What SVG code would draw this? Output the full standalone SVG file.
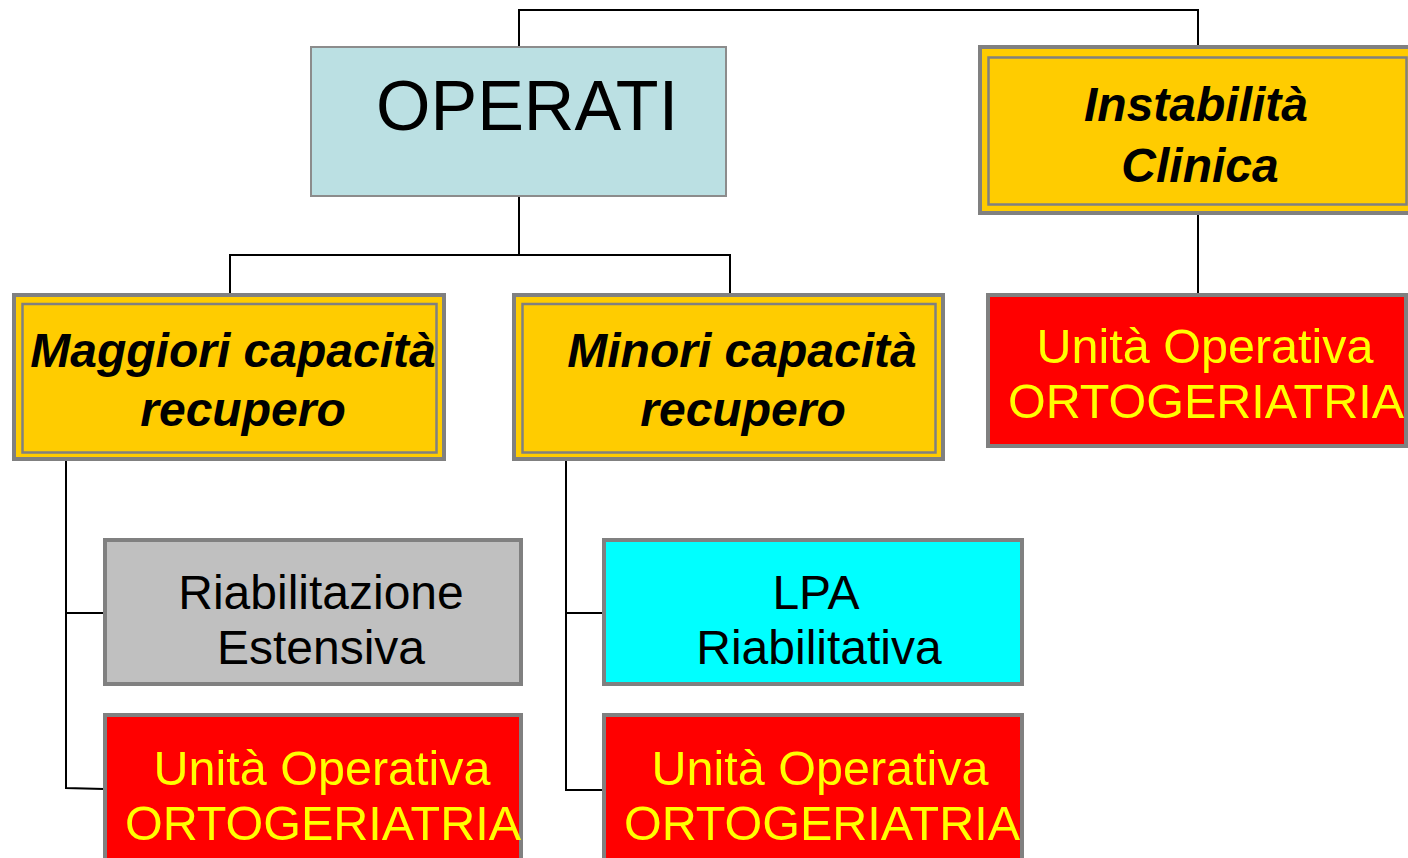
<svg xmlns="http://www.w3.org/2000/svg" width="1408" height="858" viewBox="0 0 1408 858">
<style>
.bg{fill:#ffffff}
.conn{fill:none;stroke:#000000;stroke-width:2}
.op{fill:#BBE0E3;stroke:#8C8C8C;stroke-width:2}
.yel{fill:#FFCC00;stroke:#808080;stroke-width:4}
.yin{fill:none;stroke:#808080;stroke-width:2.5}
.gray{fill:#C0C0C0;stroke:#808080;stroke-width:4}
.cyan{fill:#00FFFF;stroke:#808080;stroke-width:4}
.red{fill:#FF0000;stroke:#808080;stroke-width:4}
text{font-family:"Liberation Sans",Arial,sans-serif;font-size:48px;text-anchor:middle}
.bi{font-weight:bold;font-style:italic;fill:#000000}
.blk{fill:#000000}
.yt{fill:#FFFF00;font-size:48.5px}
</style>
<rect class="bg" x="0" y="0" width="1408" height="858"/>
<g id="connectors">
<polyline class="conn" points="519,47 519,10 1198,10 1198,46"/>
<polyline class="conn" points="519,197 519,255"/>
<polyline class="conn" points="230,293 230,255 730,255 730,293"/>
<polyline class="conn" points="1198,215 1198,293"/>
<polyline class="conn" points="66,461 66,788 104,789"/>
<polyline class="conn" points="66,613 104,613"/>
<polyline class="conn" points="566,461 566,790 603,790"/>
<polyline class="conn" points="566,613 603,613"/>
</g>
<g id="operati">
<rect class="op" x="311" y="47" width="415" height="149"/>
<text class="blk" x="376" y="130" style="font-size:70px;text-anchor:start">OPERATI</text>
</g>
<g id="instabilita">
<rect class="yel" x="980" y="47" width="436" height="166"/>
<rect class="yin" x="988.5" y="57.5" width="418" height="147"/>
<text class="bi" x="1196" y="121">Instabilità</text>
<text class="bi" x="1200" y="182">Clinica</text>
</g>
<g id="maggiori">
<rect class="yel" x="14" y="295" width="430" height="164"/>
<rect class="yin" x="22.5" y="304" width="414" height="148.5"/>
<text class="bi" x="233" y="367">Maggiori capacità</text>
<text class="bi" x="243" y="426">recupero</text>
</g>
<g id="minori">
<rect class="yel" x="514" y="295" width="429" height="164"/>
<rect class="yin" x="522.5" y="304" width="413" height="148.5"/>
<text class="bi" x="742" y="367">Minori capacità</text>
<text class="bi" x="743" y="426">recupero</text>
</g>
<g id="uo-right">
<rect class="red" x="988" y="295" width="418" height="151"/>
<text class="yt" x="1205" y="363">Unità Operativa</text>
<text class="yt" x="1206" y="418">ORTOGERIATRIA</text>
</g>
<g id="riabilitazione">
<rect class="gray" x="105" y="540" width="416" height="144"/>
<text class="blk" x="321" y="609">Riabilitazione</text>
<text class="blk" x="321" y="664">Estensiva</text>
</g>
<g id="lpa">
<rect class="cyan" x="604" y="540" width="418" height="144"/>
<text class="blk" x="816" y="609">LPA</text>
<text class="blk" x="819" y="664">Riabilitativa</text>
</g>
<g id="uo-left">
<rect class="red" x="105" y="715" width="416" height="160"/>
<text class="yt" x="322" y="785">Unità Operativa</text>
<text class="yt" x="323" y="840">ORTOGERIATRIA</text>
</g>
<g id="uo-middle">
<rect class="red" x="604" y="715" width="418" height="160"/>
<text class="yt" x="820" y="785">Unità Operativa</text>
<text class="yt" x="822" y="840">ORTOGERIATRIA</text>
</g>
</svg>
